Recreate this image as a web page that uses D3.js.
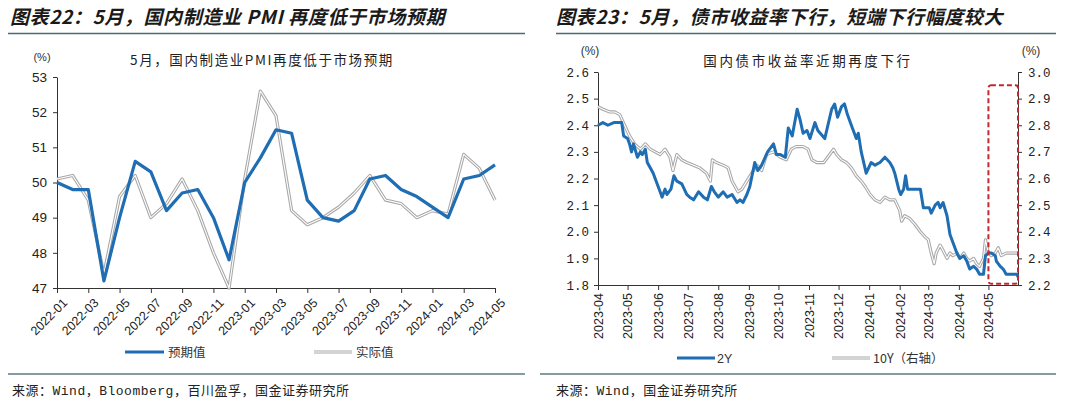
<!DOCTYPE html>
<html><head><meta charset="utf-8">
<script src="https://cdn.jsdelivr.net/npm/d3@7"></script>
<style>
html,body{margin:0;padding:0;background:#fff;}
svg{display:block;}
</style></head>
<body><svg id="c" width="1080" height="405"></svg>
<script>
// ---------- Data: left chart (PMI) ----------
const pmiMonths = ["2022-01","2022-02","2022-03","2022-04","2022-05","2022-06","2022-07","2022-08","2022-09","2022-10","2022-11","2022-12",
  "2023-01","2023-02","2023-03","2023-04","2023-05","2023-06","2023-07","2023-08","2023-09","2023-10","2023-11","2023-12",
  "2024-01","2024-02","2024-03","2024-04","2024-05"];
const pmiExpected = [50.0,49.8,49.8,47.2,49.0,50.6,50.3,49.2,49.7,49.8,49.0,47.8,50.0,50.7,51.5,51.4,49.5,49.0,48.9,49.2,50.1,50.2,49.8,49.6,49.3,49.0,50.1,50.2,50.5];
const pmiActual   = [50.1,50.2,49.5,47.4,49.6,50.2,49.0,49.4,50.1,49.2,48.0,47.0,50.1,52.6,51.9,49.2,48.8,49.0,49.3,49.7,50.2,49.5,49.4,49.0,49.2,49.1,50.8,50.4,49.5];
const pmiXTicks = ["2022-01","2022-03","2022-05","2022-07","2022-09","2022-11","2023-01","2023-03","2023-05","2023-07","2023-09","2023-11","2024-01","2024-03","2024-05"];
const pmiYTicks = [47,48,49,50,51,52,53];

// ---------- Data: right chart (bond yields) ----------
const y2Dates = ["2023-04-01","2023-04-06","2023-04-11","2023-04-17","2023-04-22","2023-04-25","2023-04-27","2023-05-01","2023-05-03","2023-05-05","2023-05-07","2023-05-11","2023-05-14","2023-05-16","2023-05-19","2023-05-21","2023-05-24","2023-05-27","2023-05-30","2023-06-03","2023-06-05","2023-06-08","2023-06-10","2023-06-14","2023-06-17","2023-06-20","2023-06-25","2023-06-30","2023-07-03","2023-07-07","2023-07-12","2023-07-17","2023-07-21","2023-07-25","2023-07-28","2023-08-01","2023-08-06","2023-08-10","2023-08-15","2023-08-20","2023-08-23","2023-08-26","2023-08-30","2023-09-02","2023-09-07","2023-09-10","2023-09-14","2023-09-20","2023-09-26","2023-09-29","2023-10-03","2023-10-08","2023-10-11","2023-10-15","2023-10-20","2023-10-23","2023-10-26","2023-10-30","2023-11-02","2023-11-07","2023-11-10","2023-11-17","2023-11-24","2023-11-27","2023-11-30","2023-12-04","2023-12-07","2023-12-10","2023-12-15","2023-12-19","2023-12-21","2023-12-24","2023-12-29","2024-01-03","2024-01-07","2024-01-12","2024-01-17","2024-01-22","2024-01-25","2024-01-27","2024-01-31","2024-02-02","2024-02-05","2024-02-07","2024-02-09","2024-02-11","2024-02-22","2024-02-25","2024-02-28","2024-03-02","2024-03-04","2024-03-08","2024-03-11","2024-03-13","2024-03-16","2024-03-20","2024-03-23","2024-03-26","2024-03-30","2024-04-02","2024-04-06","2024-04-09","2024-04-12","2024-04-16","2024-04-19","2024-04-22","2024-04-26","2024-04-28","2024-05-01","2024-05-04","2024-05-08","2024-05-09","2024-05-13","2024-05-16","2024-05-19","2024-05-23","2024-05-26","2024-05-30","2024-05-31"];
const y2Values = [2.40,2.41,2.40,2.41,2.41,2.41,2.36,2.35,2.33,2.30,2.33,2.28,2.30,2.29,2.31,2.26,2.24,2.22,2.19,2.15,2.13,2.16,2.14,2.16,2.21,2.19,2.18,2.14,2.13,2.12,2.15,2.13,2.12,2.17,2.15,2.13,2.15,2.13,2.14,2.11,2.12,2.11,2.14,2.17,2.26,2.23,2.25,2.30,2.33,2.29,2.29,2.28,2.39,2.36,2.46,2.42,2.37,2.38,2.35,2.41,2.38,2.35,2.46,2.48,2.43,2.47,2.48,2.44,2.39,2.35,2.37,2.30,2.22,2.26,2.25,2.26,2.28,2.26,2.24,2.22,2.16,2.14,2.16,2.21,2.16,2.16,2.16,2.09,2.09,2.09,2.07,2.10,2.11,2.09,2.11,2.06,1.99,1.96,1.92,1.90,1.91,1.89,1.86,1.87,1.86,1.84,1.84,1.91,1.92,1.92,1.91,1.89,1.87,1.86,1.84,1.84,1.84,1.84,1.83];
const y10Dates = ["2023-04-01","2023-04-06","2023-04-13","2023-04-18","2023-04-23","2023-04-28","2023-05-03","2023-05-08","2023-05-14","2023-05-19","2023-05-24","2023-05-29","2023-06-03","2023-06-08","2023-06-13","2023-06-16","2023-06-20","2023-06-25","2023-06-30","2023-07-07","2023-07-13","2023-07-20","2023-07-24","2023-07-26","2023-07-30","2023-08-06","2023-08-11","2023-08-15","2023-08-18","2023-08-21","2023-08-25","2023-08-30","2023-09-04","2023-09-09","2023-09-14","2023-09-19","2023-09-26","2023-10-03","2023-10-09","2023-10-14","2023-10-19","2023-10-26","2023-10-31","2023-11-04","2023-11-09","2023-11-16","2023-11-22","2023-11-26","2023-11-29","2023-12-04","2023-12-09","2023-12-14","2023-12-19","2023-12-24","2023-12-28","2024-01-02","2024-01-07","2024-01-12","2024-01-17","2024-01-22","2024-01-27","2024-02-01","2024-02-03","2024-02-06","2024-02-11","2024-02-16","2024-02-22","2024-02-27","2024-03-01","2024-03-04","2024-03-07","2024-03-09","2024-03-13","2024-03-16","2024-03-20","2024-03-23","2024-03-26","2024-03-30","2024-04-02","2024-04-06","2024-04-09","2024-04-12","2024-04-16","2024-04-19","2024-04-22","2024-04-26","2024-04-28","2024-05-01","2024-05-04","2024-05-08","2024-05-11","2024-05-14","2024-05-19","2024-05-25","2024-05-31"];
const y10Values = [2.87,2.86,2.85,2.85,2.84,2.80,2.76,2.73,2.71,2.73,2.71,2.70,2.69,2.71,2.68,2.63,2.69,2.67,2.66,2.65,2.64,2.62,2.59,2.67,2.66,2.65,2.64,2.59,2.57,2.55,2.56,2.59,2.62,2.65,2.63,2.69,2.70,2.68,2.67,2.71,2.72,2.72,2.71,2.67,2.66,2.66,2.69,2.71,2.69,2.67,2.66,2.64,2.61,2.59,2.57,2.54,2.52,2.51,2.53,2.52,2.52,2.48,2.44,2.46,2.45,2.43,2.40,2.38,2.37,2.32,2.28,2.32,2.35,2.33,2.30,2.32,2.31,2.32,2.30,2.32,2.30,2.29,2.30,2.28,2.27,2.30,2.37,2.32,2.31,2.32,2.34,2.31,2.32,2.32,2.32];
const bondXTicks = ["2023-04-01","2023-05-01","2023-06-01","2023-07-01","2023-08-01","2023-09-01","2023-10-01","2023-11-01","2023-12-01","2024-01-01","2024-02-01","2024-03-01","2024-04-01","2024-05-01"];
const bondLeftTicks = [1.8,1.9,2.0,2.1,2.2,2.3,2.4,2.5,2.6];
const bondRightTicks = [2.2,2.3,2.4,2.5,2.6,2.7,2.8,2.9,3.0];
const highlightRange = {start:"2024-05-01", end:"2024-05-31", top:2.95, bottom:2.205};

// ---------- Drawing ----------
const svg = d3.select("#c");
const CJK = "'Noto Sans CJK SC', sans-serif";
const ARIAL = "'Liberation Sans', Arial, sans-serif";
const MONO = "'Liberation Mono', 'Noto Sans CJK SC', monospace";
const BLUE = "#1f6db3";
const GRAY = "#a8a8a8";
const parse = d3.timeParse("%Y-%m-%d");

// headers
function header(x, text, lx1, lx2) {
  svg.append("text").attr("x", x).attr("y", 24).text(text)
    .style("font-family", CJK).style("font-size", "19px").style("font-weight", "bold")
    .style("letter-spacing", "0.6px")
    .style("font-style", "italic").style("fill", "#1a1a1a");
  svg.append("line").attr("x1", lx1).attr("x2", lx2).attr("y1", 33.5).attr("y2", 33.5)
    .attr("stroke", "#4d6878").attr("stroke-width", 1.4);
}
header(10, "图表22：5月，国内制造业 PMI 再度低于市场预期", 8, 525);
header(556, "图表23：5月，债市收益率下行，短端下行幅度较大", 556, 1056);

// footers
function footer(x, text, lx1, lx2) {
  svg.append("line").attr("x1", lx1).attr("x2", lx2).attr("y1", 374).attr("y2", 374)
    .attr("stroke", "#5f7a88").attr("stroke-width", 1.4);
  svg.append("text").attr("x", x).attr("y", 395).text(text)
    .style("font-family", MONO).style("font-size", "13px").style("letter-spacing", "0.5px").style("fill", "#222");
}
footer(12, "来源：Wind，Bloomberg，百川盈孚，国金证券研究所", 8, 525);
footer(556, "来源：Wind，国金证券研究所", 540, 1056);

function styleAxis(g, font, size) {
  g.selectAll("path,line").attr("stroke", "#333").attr("stroke-width", 1);
  g.selectAll("text").style("font-family", font).style("font-size", size + "px").style("fill", "#222");
}

function drawDouble(g, data, line) {
  g.append("path").datum(data).attr("d", line).attr("fill", "none")
    .attr("stroke", GRAY).attr("stroke-width", 3.2).attr("stroke-linejoin", "round");
  g.append("path").datum(data).attr("d", line).attr("fill", "none")
    .attr("stroke", "#ffffff").attr("stroke-width", 1.1).attr("stroke-linejoin", "round");
}

// ----- Left chart -----
{
  const g = svg.append("g");
  const x = d3.scalePoint().domain(pmiMonths).range([57, 495]);
  const y = d3.scaleLinear().domain([47, 53]).range([288, 77]);

  g.append("text").attr("x", 262).attr("y", 65).attr("text-anchor", "middle")
    .text("5月，国内制造业PMI再度低于市场预期")
    .style("font-family", CJK).style("font-size", "13.5px").style("letter-spacing", "1.6px").style("fill", "#222");
  g.append("text").attr("x", 42).attr("y", 61).attr("text-anchor", "middle").text("(%)")
    .style("font-family", ARIAL).style("font-size", "11px").style("fill", "#333");

  const ya = g.append("g").attr("transform", "translate(57,0)")
    .call(d3.axisLeft(y).tickValues(pmiYTicks).tickSize(4).tickSizeOuter(0).tickPadding(6).tickFormat(d3.format("d")));
  styleAxis(ya, ARIAL, 13.5);

  const xa = g.append("g").attr("transform", "translate(0,288)")
    .call(d3.axisBottom(x).tickValues(pmiXTicks).tickSize(5).tickSizeOuter(0));
  styleAxis(xa, ARIAL, 12.5);
  xa.selectAll("text").attr("text-anchor", "end").attr("dy", "0").attr("dx", "0")
    .attr("transform", "translate(5,10) rotate(-45)");

  const rows = pmiMonths.map((m, i) => ({m, e: pmiExpected[i], a: pmiActual[i]}));
  drawDouble(g, rows, d3.line().x(d => x(d.m)).y(d => y(d.a)));
  g.append("path").datum(rows).attr("d", d3.line().x(d => x(d.m)).y(d => y(d.e)))
    .attr("fill", "none").attr("stroke", BLUE).attr("stroke-width", 3.2).attr("stroke-linejoin", "round");

  // legend
  g.append("line").attr("x1", 125).attr("x2", 164).attr("y1", 352).attr("y2", 352)
    .attr("stroke", BLUE).attr("stroke-width", 3.2);
  g.append("text").attr("x", 168).attr("y", 356.5).text("预期值")
    .style("font-family", CJK).style("font-size", "12.5px").style("fill", "#333");
  const lg = g.append("g");
  drawDouble(lg, [[314, 352], [352, 352]], d3.line());
  g.append("text").attr("x", 356).attr("y", 356.5).text("实际值")
    .style("font-family", CJK).style("font-size", "12.5px").style("fill", "#333");
}

// ----- Right chart -----
{
  const g = svg.append("g");
  const x = d3.scaleTime().domain([parse("2023-04-01"), parse("2024-05-31")]).range([598, 1018]);
  const y = d3.scaleLinear().domain([1.8, 2.6]).range([285, 72]);
  const y2 = d3.scaleLinear().domain([2.2, 3.0]).range([285, 72]);

  g.append("text").attr("x", 808).attr("y", 66).attr("text-anchor", "middle")
    .text("国内债市收益率近期再度下行")
    .style("font-family", CJK).style("font-size", "13.5px").style("letter-spacing", "2.6px").style("fill", "#222");
  g.append("text").attr("x", 590).attr("y", 55).attr("text-anchor", "middle").text("(%)")
    .style("font-family", ARIAL).style("font-size", "12px").style("fill", "#333");
  g.append("text").attr("x", 1031).attr("y", 55).attr("text-anchor", "middle").text("(%)")
    .style("font-family", ARIAL).style("font-size", "12px").style("fill", "#333");

  const la = g.append("g").attr("transform", "translate(598,0)")
    .call(d3.axisLeft(y).tickValues(bondLeftTicks).tickSize(4).tickSizeOuter(0).tickPadding(5).tickFormat(d3.format(".1f")));
  styleAxis(la, MONO, 12.5);
  const ra = g.append("g").attr("transform", "translate(1018,0)")
    .call(d3.axisRight(y2).tickValues(bondRightTicks).tickSize(4).tickSizeOuter(0).tickPadding(6).tickFormat(d3.format(".1f")));
  styleAxis(ra, MONO, 12.5);

  const xa = g.append("g").attr("transform", "translate(0,285)")
    .call(d3.axisBottom(x).tickValues(bondXTicks.map(parse)).tickSize(5).tickSizeOuter(0).tickFormat(d3.timeFormat("%Y-%m")));
  styleAxis(xa, ARIAL, 12.5);
  xa.selectAll("text").attr("text-anchor", "end").attr("dy", "0.35em").attr("y", 0).attr("x", 0)
    .attr("transform", "translate(0,8) rotate(-90)");

  const d10 = y10Dates.map((d, i) => ({d: parse(d), v: y10Values[i]}));
  const d2 = y2Dates.map((d, i) => ({d: parse(d), v: y2Values[i]}));
  drawDouble(g, d10, d3.line().x(p => x(p.d)).y(p => y2(p.v)));
  g.append("path").datum(d2).attr("d", d3.line().x(p => x(p.d)).y(p => y(p.v)))
    .attr("fill", "none").attr("stroke", BLUE).attr("stroke-width", 3).attr("stroke-linejoin", "round");

  // highlight box
  const hx1 = x(parse(highlightRange.start)), hx2 = x(parse(highlightRange.end));
  const hy1 = y2(highlightRange.top), hy2 = y2(highlightRange.bottom);
  g.append("rect").attr("x", hx1).attr("y", hy1).attr("width", hx2 - hx1).attr("height", hy2 - hy1)
    .attr("rx", 2.5).attr("fill", "none").attr("stroke", "#c0282e").attr("stroke-width", 2)
    .attr("stroke-dasharray", "5,3");

  // legend
  g.append("line").attr("x1", 677).attr("x2", 715).attr("y1", 358).attr("y2", 358)
    .attr("stroke", BLUE).attr("stroke-width", 3.2);
  g.append("text").attr("x", 717).attr("y", 362.5).text("2Y")
    .style("font-family", ARIAL).style("font-size", "12.5px").style("fill", "#333");
  const lg = g.append("g");
  drawDouble(lg, [[832, 358], [870, 358]], d3.line());
  g.append("text").attr("x", 873).attr("y", 362.5).text("10Y（右轴）")
    .style("font-family", CJK).style("font-size", "12.5px").style("fill", "#333");
}
</script>
</body></html>
